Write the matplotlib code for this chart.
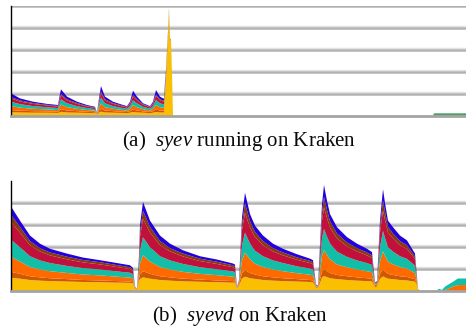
import matplotlib
matplotlib.use("Agg")
import matplotlib.pyplot as plt
import matplotlib.transforms as mtransforms

plt.rcParams["mathtext.fontset"] = "custom"
plt.rcParams["mathtext.rm"] = "Liberation Serif"
plt.rcParams["mathtext.it"] = "Liberation Serif:italic"

# Layer colours, bottom of the stack first
layer_colors = ["#f9bf00", "#d05800", "#ff6a00", "#12bfa6", "#c2103c", "#8a3a0c", "#2300dc", "#2e9b5a"]

# ---- (a) syev running on Kraken ----
t_a = [0, 9, 22, 36, 47, 49, 50, 56, 66, 76, 84, 86, 88, 90, 94, 102, 112, 116, 119, 122,
       126, 132, 139, 142, 145, 149, 152, 153, 154, 155, 156, 157, 158, 159, 160, 161, 162,
       163, 422, 423, 455]
yellow_a = [.17, .16, .15, .15, .14, .17, .19, .16, .15, .14, .13, .07, .16, .20, .16, .15, .14, .13, .15, .18,
            .16, .15, .13, .15, .18, .16, .16, .16, .90, 1.66, 2.75, 3.65, 4.80, 3.45, 3.41, 1.82, .05,
            0, 0, 0, 0]
rust_a = [.10, .08, .07, .06, .05, .10, .12, .09, .07, .05, .04, .02, .08, .13, .09, .07, .05, .05, .07, .11,
          .09, .06, .05, .07, .11, .09, .08, .08, .08, .05, .03, .02, .01, .01, .01, .01, 0,
          0, 0, 0, 0]
orange_a = [.18, .14, .11, .09, .08, .17, .21, .15, .11, .08, .07, .02, .14, .24, .15, .11, .08, .07, .11, .20,
            .15, .10, .07, .11, .21, .15, .14, .14, .14, .10, .05, .03, .02, .02, .01, .01, 0,
            0, 0, .05, .05]
teal_a = [.20, .16, .12, .10, .09, .19, .24, .18, .12, .09, .07, .02, .16, .27, .18, .12, .09, .08, .12, .22,
          .18, .11, .08, .12, .23, .18, .16, .16, .16, .10, .05, .03, .02, .02, .01, .01, 0,
          0, 0, 0, 0]
crimson_a = [.15, .12, .10, .08, .07, .15, .18, .13, .10, .07, .06, .01, .12, .20, .13, .10, .07, .06, .10, .17,
             .13, .09, .06, .10, .18, .13, .12, .12, .12, .10, .05, .03, .02, .01, .01, .01, 0,
             0, 0, 0, 0]
brown_a = [.06, .05, .04, .03, .03, .06, .07, .05, .04, .03, .02, .005, .05, .08, .05, .04, .03, .03, .04, .07,
           .05, .03, .03, .04, .07, .05, .05, .05, .05, .04, .03, .02, .01, .01, .005, 0, 0,
           0, 0, 0, 0]
blue_a = [.17, .09, .06, .04, .04, .16, .20, .12, .06, .04, .03, .005, .09, .24, .12, .06, .04, .03, .06, .20,
          .12, .04, .03, .06, .20, .12, .09, .09, .09, .05, .04, .05, .02, .01, .005, 0, 0,
          0, 0, 0, 0]
green_a = [0] * 39 + [.07, .07]

# ---- (b) syevd on Kraken ----
t_b = [0, 1, 9, 19, 29, 39, 56, 72, 89, 106, 119, 122, 124, 126, 128, 129, 132, 139, 149, 159,
       172, 189, 206, 222, 224, 226, 228, 231, 234, 239, 244, 252, 262, 272, 286, 299, 302, 305, 307, 311,
       313, 316, 319, 326, 336, 346, 356, 361, 364, 366, 369, 372, 374, 377, 382, 389, 396, 402, 404, 406,
       407, 409, 425, 428, 431, 434, 442, 447, 455]
yellow_b = [.58, .60, .56, .50, .47, .45, .43, .41, .40, .38, .37, .35, .10, .06, .45, .55, .62, .56, .50, .47,
            .44, .42, .40, .38, .37, .10, .25, .57, .65, .58, .55, .50, .47, .45, .43, .41, .40, .14, .12, .62,
            .68, .63, .58, .54, .50, .47, .45, .44, .18, .20, .56, .66, .62, .56, .54, .50, .48, .44, .43, .28,
            .06, 0, 0, 0, 0, 0, 0, 0, 0]
rust_b = [.24, .26, .22, .17, .15, .13, .11, .09, .08, .07, .06, .05, .02, .01, .12, .20, .28, .22, .17, .15,
          .12, .10, .08, .07, .06, .02, .05, .23, .30, .24, .20, .17, .15, .13, .11, .09, .08, .03, .03, .27,
          .32, .28, .24, .19, .17, .15, .13, .12, .04, .04, .22, .31, .27, .22, .19, .17, .16, .12, .11, .06,
          .01, 0, 0, 0, 0, 0, 0, 0, 0]
orange_b = [.62, .67, .56, .42, .36, .32, .28, .25, .23, .20, .18, .16, .03, .01, .28, .50, .72, .56, .42, .36,
            .31, .26, .24, .20, .19, .03, .08, .59, .80, .62, .49, .42, .36, .32, .27, .24, .23, .05, .04, .70,
            .86, .73, .62, .48, .41, .36, .32, .29, .07, .08, .56, .83, .71, .56, .48, .42, .38, .31, .28, .11,
            .01, 0, 0, .02, .02, .05, .20, .27, .27]
teal_b = [.72, .76, .65, .49, .41, .37, .32, .29, .27, .24, .22, .20, .02, .01, .28, .60, .82, .65, .49, .41,
          .36, .30, .27, .24, .23, .02, .05, .69, .90, .72, .59, .49, .41, .37, .31, .28, .27, .03, .03, .80,
          .96, .83, .72, .58, .47, .41, .37, .33, .05, .06, .65, .93, .81, .65, .58, .49, .44, .36, .32, .08,
          .01, 0, 0, .08, .03, .15, .22, .30, .30]
crimson_b = [.72, .78, .67, .50, .41, .35, .30, .26, .23, .20, .17, .15, .01, .01, .25, .62, .84, .67, .50, .41,
             .34, .28, .24, .19, .18, .01, .04, .70, .90, .72, .62, .50, .41, .35, .30, .25, .23, .02, .01, .82,
             .98, .85, .72, .60, .48, .41, .35, .32, .03, .04, .67, .93, .83, .67, .60, .50, .45, .34, .30, .06,
             .01, 0, 0, 0, 0, 0, 0, 0, 0]
brown_b = [.30, .33, .26, .19, .15, .13, .12, .11, .10, .09, .08, .07, .01, 0, .10, .23, .37, .26, .19, .15,
           .13, .11, .10, .09, .08, .01, .02, .28, .44, .30, .23, .19, .15, .13, .11, .10, .10, .02, .01, .36,
           .48, .37, .30, .22, .18, .15, .13, .12, .02, .02, .26, .46, .37, .26, .22, .19, .17, .13, .12, .03,
           0, 0, 0, 0, 0, 0, 0, 0, 0]
blue_b = [.32, .37, .28, .25, .20, .17, .14, .11, .09, .09, .09, .07, .01, 0, .12, .30, .40, .28, .25, .20,
          .15, .11, .10, .08, .09, .01, .01, .29, .48, .32, .29, .25, .20, .17, .14, .10, .09, .01, .01, .38,
          .54, .41, .32, .29, .24, .20, .17, .15, .01, .01, .28, .51, .39, .28, .29, .25, .22, .15, .14, .02,
          0, 0, 0, 0, 0, 0, 0, 0, 0]

W, H = 466, 330
fig = plt.figure(figsize=(W / 100, H / 100), dpi=100)


def make_axes(top_px, bottom_px):
    left = 11 / W
    return fig.add_axes([left, 1 - bottom_px / H, 1 - left, (bottom_px - top_px) / H])


def style_axes(ax, grid_levels):
    ax.set_xlim(0, 455)
    ax.set_ylim(0, 5)
    ax.set_xticks([])
    ax.set_yticks([])
    for side in ("top", "right"):
        ax.spines[side].set_visible(False)
    ax.spines["left"].set_color("black")
    ax.spines["left"].set_linewidth(1.0)
    ax.spines["bottom"].set_color("#a4a4a4")
    ax.spines["bottom"].set_linewidth(2.0)
    ytrans = ax.get_yaxis_transform()
    up = ytrans + mtransforms.ScaledTranslation(0, 1.6 / 100, fig.dpi_scale_trans)
    for y in grid_levels:
        ax.plot([0, 1], [y, y], transform=up, color="#e2e2e2", lw=1.0, zorder=0.4,
                solid_capstyle="butt")
        ax.plot([0, 1], [y, y], transform=ytrans, color="#b2b2b2", lw=1.8, zorder=0.5,
                solid_capstyle="butt")


ax_a = make_axes(6, 116)
style_axes(ax_a, [1, 2, 3, 4, 5])
ax_a.stackplot(t_a, yellow_a, rust_a, orange_a, teal_a, crimson_a, brown_a, blue_a, green_a,
               colors=layer_colors, linewidth=0, zorder=2)

ax_b = make_axes(181, 291)
style_axes(ax_b, [1, 2, 3, 4])
ax_b.stackplot(t_b, yellow_b, rust_b, orange_b, teal_b, crimson_b, brown_b, blue_b,
               colors=layer_colors[:7], linewidth=0, zorder=2)

cap_style = dict(ha="center", va="baseline", fontsize=15, family="Liberation Serif", color="#0a0a0a")
fig.text(239 / W, 1 - 146 / H, r"(a)  $\mathit{syev}$ running on Kraken", **cap_style)
fig.text(240 / W, 1 - 321 / H, r"(b)  $\mathit{syevd}$ on Kraken", **cap_style)

fig.savefig("out.png", dpi=100)
